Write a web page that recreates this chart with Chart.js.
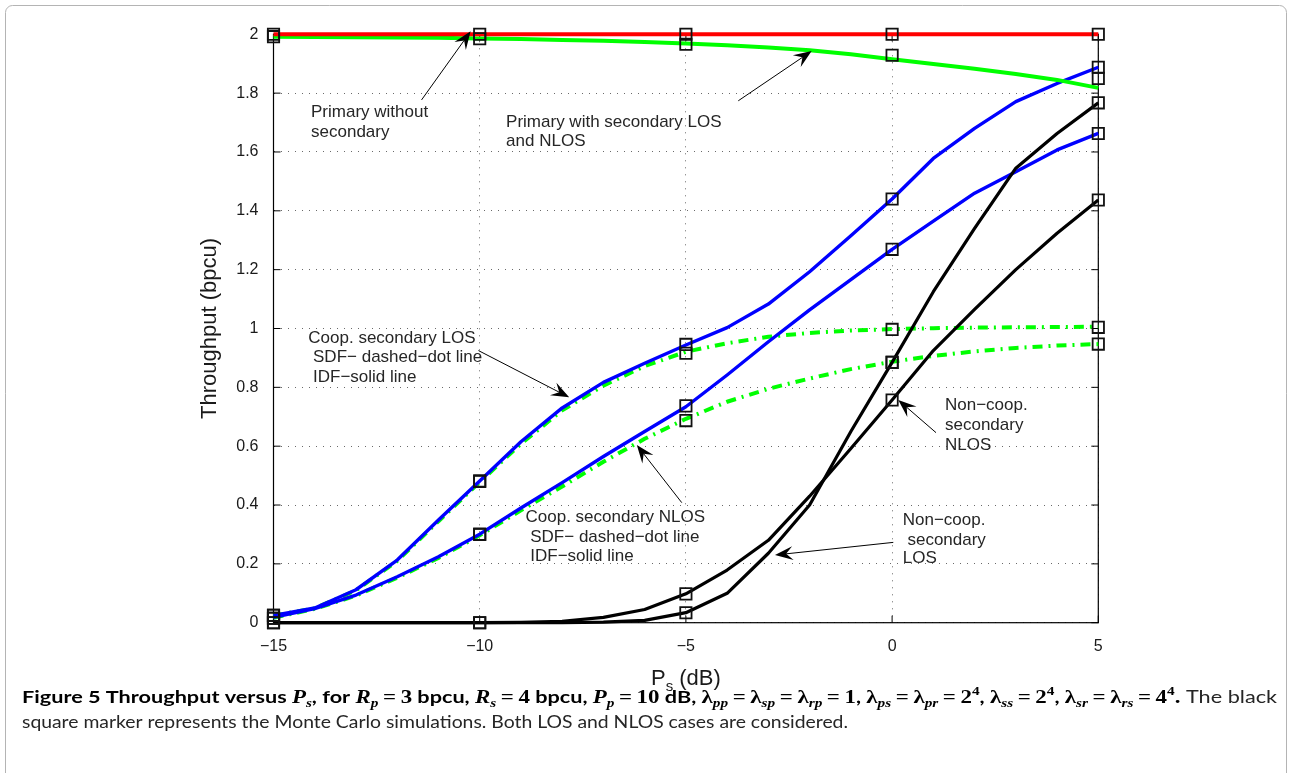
<!DOCTYPE html>
<html>
<head>
<meta charset="utf-8">
<script src="https://cdn.jsdelivr.net/npm/chart.js@4.4.1/dist/chart.umd.min.js"></script>
<style>
  html, body { margin: 0; padding: 0; background: #ffffff; }
  #wrap { width: 1292px; height: 773px; position: relative; }
</style>
</head>
<body>
<div id="wrap"><canvas id="fig"></canvas></div>
<script>
// ---- Secondary transmit power P_s (dB) ----
const psDb = [-15, -14, -13, -12, -11, -10, -9, -8, -7, -6, -5, -4, -3, -2, -1, 0, 1, 2, 3, 4, 5];

// ---- Analytical throughput curves (bpcu) ----
const primaryAlone  = [2, 2, 2, 2, 2, 2, 2, 2, 2, 2, 2, 2, 2, 2, 2, 2, 2, 2, 2, 2, 2];
const primaryShared = [1.992, 1.991, 1.990, 1.989, 1.988, 1.986, 1.984, 1.981, 1.978, 1.974, 1.969,
                       1.963, 1.955, 1.946, 1.932, 1.915, 1.899, 1.883, 1.865, 1.845, 1.818];
const coopLosIdf    = [0.025, 0.050, 0.112, 0.213, 0.349, 0.482, 0.615, 0.730, 0.817, 0.882, 0.944,
                       1.003, 1.083, 1.193, 1.315, 1.440, 1.578, 1.680, 1.771, 1.833, 1.888];
const coopNlosIdf   = [0.018, 0.048, 0.094, 0.156, 0.224, 0.301, 0.390, 0.476, 0.565, 0.650, 0.734,
                       0.842, 0.955, 1.063, 1.166, 1.269, 1.365, 1.460, 1.533, 1.607, 1.663];
const coopLosSdf    = [0.024, 0.049, 0.110, 0.210, 0.345, 0.478, 0.608, 0.722, 0.806, 0.872, 0.921,
                       0.950, 0.972, 0.985, 0.993, 0.998, 1.001, 1.003, 1.004, 1.005, 1.006];
const coopNlosSdf   = [0.017, 0.047, 0.092, 0.153, 0.220, 0.297, 0.382, 0.463, 0.547, 0.625, 0.693,
                       0.751, 0.795, 0.830, 0.862, 0.887, 0.907, 0.922, 0.934, 0.942, 0.947];
const nonCoopLos    = [0, 0, 0, 0, 0, 0, 0, 0, 0.002, 0.008, 0.034,
                       0.100, 0.236, 0.400, 0.650, 0.885, 1.125, 1.340, 1.545, 1.663, 1.767];
const nonCoopNlos   = [0, 0, 0, 0, 0, 0, 0.001, 0.005, 0.018, 0.045, 0.098,
                       0.179, 0.280, 0.430, 0.592, 0.757, 0.925, 1.065, 1.200, 1.324, 1.437];

// ---- Monte Carlo simulation points ----
const simDb            = [-15, -10, -5, 0, 5];
const simPrimaryAlone  = [2, 2, 2, 2, 2];
const simPrimaryShared = [1.992, 1.985, 1.966, 1.929, 1.850];
const simCoopLosIdf    = [0.025, 0.482, 0.946, 1.440, 1.888];
const simCoopNlosIdf   = [0.015, 0.301, 0.737, 1.269, 1.663];
const simCoopLosSdf    = [0.025, 0.480, 0.916, 0.997, 1.004];
const simCoopNlosSdf   = [0.015, 0.300, 0.687, 0.885, 0.947];
const simNonCoopLos    = [0, 0, 0.034, 0.885, 1.767];
const simNonCoopNlos   = [0, 0, 0.098, 0.757, 1.437];

// ---- Tick labels ----
const xTickLabels = ['\u221215', '\u221210', '\u22125', '0', '5'];
const yTickLabels = ['0', '0.2', '0.4', '0.6', '0.8', '1', '1.2', '1.4', '1.6', '1.8', '2'];
const tickValue = s => Number(s.replace('\u2212', '-'));

// ---- Text notes on the axes (data coordinates) ----
const notes = [
  { x: -14.09, y: 1.736, text: 'Primary without' },
  { x: -14.09, y: 1.668, text: 'secondary' },
  { x: -9.36,  y: 1.700, text: 'Primary with secondary LOS' },
  { x: -9.36,  y: 1.636, text: 'and NLOS' },
  { x: -14.156, y: 0.968, text: 'Coop. secondary LOS' },
  { x: -14.156, y: 0.901, text: ' SDF\u2212 dashed\u2212dot line' },
  { x: -14.156, y: 0.835, text: ' IDF\u2212solid line' },
  { x: -8.889, y: 0.358, text: 'Coop. secondary NLOS' },
  { x: -8.889, y: 0.290, text: ' SDF\u2212 dashed\u2212dot line' },
  { x: -8.889, y: 0.224, text: ' IDF\u2212solid line' },
  { x: 1.283,  y: 0.740, text: 'Non\u2212coop.' },
  { x: 1.283,  y: 0.672, text: 'secondary' },
  { x: 1.283,  y: 0.604, text: 'NLOS' },
  { x: 0.257,  y: 0.347, text: 'Non\u2212coop.' },
  { x: 0.257,  y: 0.281, text: ' secondary' },
  { x: 0.257,  y: 0.219, text: 'LOS' }
];
const arrows = [
  { from: [-11.41, 1.777], to: [-10.22, 2.010] },
  { from: [-3.73, 1.774],  to: [-1.95, 1.943] },
  { from: [-10.03, 0.925], to: [-7.83, 0.766] },
  { from: [-5.10, 0.408],  to: [-6.19, 0.604] },
  { from: [1.065, 0.646],  to: [0.150, 0.757] },
  { from: [0.029, 0.273],  to: [-2.84, 0.230] }
];

const pts = (xs, ys) => xs.map((x, i) => ({ x, y: ys[i] }));
const curve = (ys, color, width, dash, order) => ({
  data: pts(psDb, ys), borderColor: color, borderWidth: width, borderDash: dash || [],
  pointRadius: 0, fill: false, tension: 0, clip: false, order,
  borderCapStyle: 'butt', borderJoinStyle: 'round'
});
const dashDot = [10, 6, 2, 6];

const simAll = [simPrimaryAlone, simPrimaryShared, simCoopLosIdf, simCoopNlosIdf,
                simCoopLosSdf, simCoopNlosSdf, simNonCoopLos, simNonCoopNlos]
  .flatMap(ys => pts(simDb, ys));

const FONT = '"Liberation Sans", Arial, sans-serif';

// Axes box, inward ticks, titles, notes and caption
const decor = {
  id: 'decor',
  beforeDraw(chart) {
    const { ctx } = chart;
    ctx.save();
    ctx.fillStyle = '#ffffff';
    ctx.fillRect(0, 0, chart.width, chart.height);
    ctx.strokeStyle = '#b4b4b4';
    ctx.lineWidth = 1;
    const r = 7, x0 = 5.5, y0 = 5.5, x1 = 1286.5, y1 = 800;
    ctx.beginPath();
    ctx.moveTo(x0, y1);
    ctx.lineTo(x0, y0 + r);
    ctx.arcTo(x0, y0, x0 + r, y0, r);
    ctx.lineTo(x1 - r, y0);
    ctx.arcTo(x1, y0, x1, y0 + r, r);
    ctx.lineTo(x1, y1);
    ctx.stroke();
    ctx.restore();
  },
  beforeDatasetsDraw(chart) {
    const { ctx, chartArea: a, scales } = chart;
    ctx.save();
    ctx.strokeStyle = '#000000';
    ctx.lineWidth = 1.2;
    ctx.strokeRect(a.left, a.top, a.right - a.left, a.bottom - a.top);
    ctx.lineWidth = 1;
    ctx.beginPath();
    const tl = 7;
    yTickLabels.forEach(s => {
      const y = scales.y.getPixelForValue(tickValue(s));
      ctx.moveTo(a.left, y); ctx.lineTo(a.left + tl, y);
      ctx.moveTo(a.right, y); ctx.lineTo(a.right - tl, y);
    });
    xTickLabels.forEach(s => {
      const x = scales.x.getPixelForValue(tickValue(s));
      ctx.moveTo(x, a.bottom); ctx.lineTo(x, a.bottom - tl);
      ctx.moveTo(x, a.top); ctx.lineTo(x, a.top + tl);
    });
    ctx.stroke();
    ctx.restore();
  },
  afterDraw(chart) {
    const { ctx, chartArea: a, scales } = chart;
    const X = v => scales.x.getPixelForValue(v);
    const Y = v => scales.y.getPixelForValue(v);
    ctx.save();

    // notes
    ctx.fillStyle = '#262626';
    ctx.font = '17px ' + FONT;
    ctx.textBaseline = 'middle';
    ctx.textAlign = 'left';
    notes.forEach(n => ctx.fillText(n.text, X(n.x), Y(n.y)));

    // arrows
    ctx.strokeStyle = '#000000';
    ctx.fillStyle = '#000000';
    ctx.lineWidth = 1;
    arrows.forEach(ar => {
      const x1 = X(ar.from[0]), y1 = Y(ar.from[1]);
      const x2 = X(ar.to[0]), y2 = Y(ar.to[1]);
      const d = Math.hypot(x2 - x1, y2 - y1);
      const ux = (x2 - x1) / d, uy = (y2 - y1) / d;
      const nx = -uy, ny = ux;
      const L = 18, W = 7;
      ctx.beginPath();
      ctx.moveTo(x1, y1);
      ctx.lineTo(x2 - ux * L * 0.6, y2 - uy * L * 0.6);
      ctx.stroke();
      ctx.beginPath();
      ctx.moveTo(x2, y2);
      ctx.lineTo(x2 - ux * L + nx * W, y2 - uy * L + ny * W);
      ctx.lineTo(x2 - ux * L * 0.62, y2 - uy * L * 0.62);
      ctx.lineTo(x2 - ux * L - nx * W, y2 - uy * L - ny * W);
      ctx.closePath();
      ctx.fill();
    });

    // axis titles
    ctx.fillStyle = '#1a1a1a';
    ctx.textBaseline = 'alphabetic';
    ctx.save();
    ctx.translate(216, (a.top + a.bottom) / 2);
    ctx.rotate(-Math.PI / 2);
    ctx.textAlign = 'center';
    ctx.font = '22px ' + FONT;
    ctx.fillText('Throughput (bpcu)', 0, 0);
    ctx.restore();

    const big = '22px ' + FONT, small = '15px ' + FONT;
    ctx.font = big; const wP = ctx.measureText('P').width; const wR = ctx.measureText(' (dB)').width;
    ctx.font = small; const wS = ctx.measureText('s').width;
    let tx = (a.left + a.right) / 2 - (wP + wS + wR) / 2;
    const ty = 685;
    ctx.textAlign = 'left';
    ctx.font = big; ctx.fillText('P', tx, ty); tx += wP;
    ctx.font = small; ctx.fillText('s', tx, ty + 6); tx += wS;
    ctx.font = big; ctx.fillText(' (dB)', tx, ty);

    // caption
    const cf = {
      b: ['bold 17px Lato, "Open Sans", sans-serif', 0, '#000'],
      r: ['17px Lato, "Open Sans", sans-serif', 0, '#262626'],
      m: ['bold italic 18px "Liberation Serif", serif', 0, '#000'],
      n: ['bold 18px "Liberation Serif", serif', 0, '#000'],
      s: ['bold italic 12px "Liberation Serif", serif', 4, '#000'],
      S: ['bold 12px "Liberation Serif", serif', -8, '#000']
    };
    const eq = v => '\u2009=\u2009' + v;
    const line1 = [
      ['b', 'Figure 5 Throughput versus '], ['m', 'P'], ['s', 's'], ['b', ', for '],
      ['m', 'R'], ['s', 'p'], ['n', eq('3')], ['b', ' bpcu, '],
      ['m', 'R'], ['s', 's'], ['n', eq('4')], ['b', ' bpcu, '],
      ['m', 'P'], ['s', 'p'], ['n', eq('10')], ['b', ' dB, '],
      ['n', '\u03bb'], ['s', 'pp'], ['n', eq('\u03bb')], ['s', 'sp'], ['n', eq('\u03bb')], ['s', 'rp'], ['n', eq('1')], ['b', ', '],
      ['n', '\u03bb'], ['s', 'ps'], ['n', eq('\u03bb')], ['s', 'pr'], ['n', eq('2')], ['S', '4'], ['b', ', '],
      ['n', '\u03bb'], ['s', 'ss'], ['n', eq('2')], ['S', '4'], ['b', ', '],
      ['n', '\u03bb'], ['s', 'sr'], ['n', eq('\u03bb')], ['s', 'rs'], ['n', eq('4')], ['S', '4'], ['n', '.'],
      ['r', ' The black']
    ];
    const line2 = [['r', 'square marker represents the Monte Carlo simulations. Both LOS and NLOS cases are considered.']];
    const drawLine = (segs, x0, base, target) => {
      let w = 0;
      segs.forEach(([k, t]) => { ctx.font = cf[k][0]; w += ctx.measureText(t).width; });
      const k = target / w;
      ctx.save();
      ctx.translate(x0, base);
      ctx.scale(k, 1);
      let x = 0;
      segs.forEach(([st, t]) => {
        ctx.font = cf[st][0]; ctx.fillStyle = cf[st][2];
        ctx.fillText(t, x, cf[st][1]);
        x += ctx.measureText(t).width;
      });
      ctx.restore();
    };
    ctx.textAlign = 'left';
    drawLine(line1, 22, 703, 1255);
    drawLine(line2, 22, 728, 826);
    ctx.restore();
  }
};

new Chart(document.getElementById('fig'), {
  type: 'line',
  data: {
    datasets: [
      { data: simAll, showLine: false, pointStyle: 'rect', pointRadius: 8, pointHoverRadius: 8,
        pointBorderWidth: 1.8, pointBorderColor: '#111111', pointBackgroundColor: 'rgba(0,0,0,0)',
        clip: false, order: 0 },
      curve(primaryAlone, '#ff0000', 4, null, 1),
      curve(primaryShared, '#00ff00', 4, null, 2),
      curve(nonCoopLos, '#000000', 3.2, null, 3),
      curve(nonCoopNlos, '#000000', 3.2, null, 4),
      curve(coopLosIdf, '#0000ff', 3.4, null, 5),
      curve(coopNlosIdf, '#0000ff', 3.4, null, 6),
      curve(coopLosSdf, '#00ff00', 4, dashDot, 7),
      curve(coopNlosSdf, '#00ff00', 4, dashDot, 8)
    ]
  },
  options: {
    responsive: true,
    maintainAspectRatio: false,
    animation: false,
    events: [],
    layout: { padding: { left: 0, right: 193.7, top: 34.3, bottom: 0 } },
    plugins: { legend: { display: false }, tooltip: { enabled: false } },
    scales: {
      x: {
        type: 'linear', min: -15, max: 5,
        afterBuildTicks: s => { s.ticks = xTickLabels.map(t => ({ value: tickValue(t) })); },
        afterFit: s => { s.height = 773 - 622.7; },
        grid: { color: '#6a6a6a', lineWidth: 1, drawTicks: false },
        border: { display: false, dash: [1, 6] },
        ticks: {
          padding: 14, autoSkip: false, maxRotation: 0, color: '#1a1a1a',
          font: { family: FONT, size: 16 },
          callback: v => xTickLabels.find(t => tickValue(t) === v) || ''
        }
      },
      y: {
        type: 'linear', min: 0, max: 2,
        afterBuildTicks: s => { s.ticks = yTickLabels.map(t => ({ value: tickValue(t) })); },
        afterFit: s => { s.width = 273.5; },
        grid: { color: '#6a6a6a', lineWidth: 1, drawTicks: false },
        border: { display: false, dash: [1, 6] },
        ticks: {
          padding: 15, autoSkip: false, color: '#1a1a1a',
          font: { family: FONT, size: 16 },
          callback: v => yTickLabels.find(t => Math.abs(tickValue(t) - v) < 1e-9) || ''
        }
      }
    }
  },
  plugins: [decor]
});
</script>
</body>
</html>
